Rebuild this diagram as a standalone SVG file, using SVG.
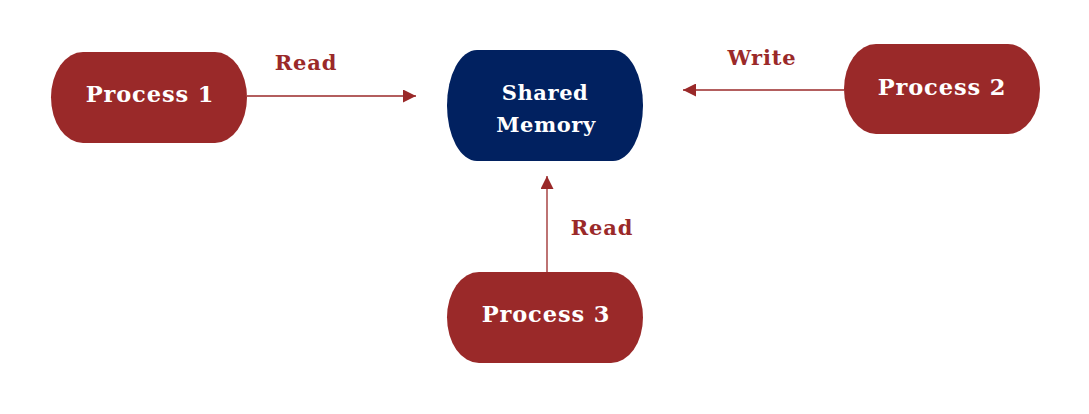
<svg xmlns="http://www.w3.org/2000/svg" width="1089" height="414" viewBox="0 0 1089 414">
<style>
.red{fill:#9a2929}
.navy{fill:#012160}
.nt{font-family:"DejaVu Serif","Liberation Serif",serif;font-weight:bold;font-size:22.5px;fill:#ffffff;text-anchor:middle;letter-spacing:0.9px}
.sm{font-family:"DejaVu Serif","Liberation Serif",serif;font-weight:bold;font-size:21px;fill:#ffffff;text-anchor:middle;letter-spacing:0.6px}
.lbl{font-family:"DejaVu Serif","Liberation Serif",serif;font-weight:bold;font-size:21px;fill:#9a2929;text-anchor:middle;letter-spacing:0.9px}
.conn{stroke:#9a2929;stroke-width:1.3;fill:none}
</style>
<defs>
<marker id="ah" viewBox="0 0 10 10" refX="10" refY="5" markerWidth="13" markerHeight="13" markerUnits="userSpaceOnUse" orient="auto">
<path d="M0,0 L10,5 L0,10 z" fill="#9a2929"/>
</marker>
</defs>
<rect width="1089" height="414" fill="#ffffff"/>
<g id="connectors">
<line class="conn" x1="247" y1="96" x2="416" y2="96" marker-end="url(#ah)"/>
<line class="conn" x1="844" y1="90" x2="683" y2="90" marker-end="url(#ah)"/>
<line class="conn" x1="547" y1="272" x2="547" y2="176" marker-end="url(#ah)"/>
<text class="lbl" x="306" y="70">Read</text>
<text class="lbl" x="762" y="65">Write</text>
<text class="lbl" x="602" y="235">Read</text>
</g>
<g id="process1">
<rect class="red" x="51" y="52" width="196" height="91" rx="32" ry="45.5"/>
<text class="nt" x="150" y="102">Process 1</text>
</g>
<g id="shared-memory">
<rect class="navy" x="447" y="50" width="196" height="111" rx="30" ry="55.5"/>
<text class="sm" x="545" y="100">Shared</text>
<text class="sm" x="546" y="132">Memory</text>
</g>
<g id="process2">
<rect class="red" x="844" y="44" width="196" height="90" rx="32" ry="45"/>
<text class="nt" x="942" y="95">Process 2</text>
</g>
<g id="process3">
<rect class="red" x="447" y="272" width="196" height="91" rx="32" ry="45.5"/>
<text class="nt" x="546" y="322">Process 3</text>
</g>
</svg>
